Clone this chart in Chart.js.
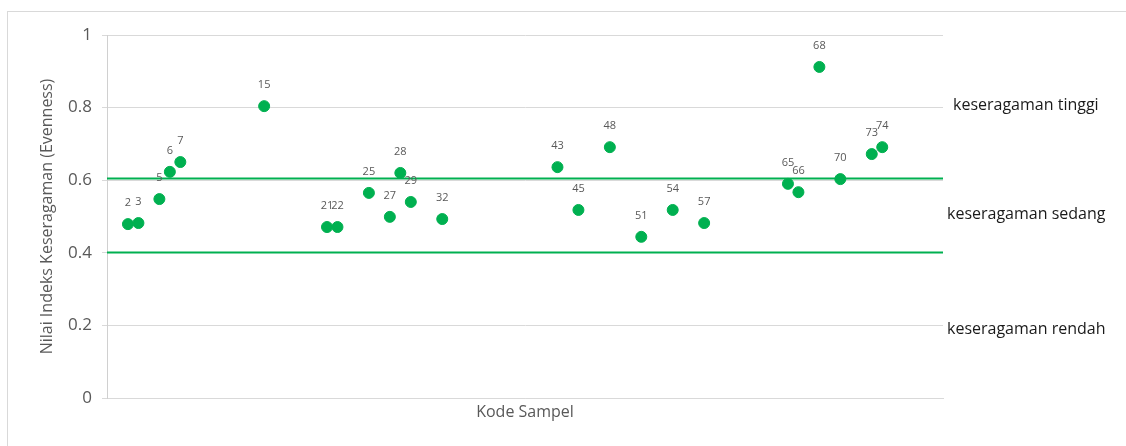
<!DOCTYPE html>
<html>
<head>
<meta charset="utf-8">
<script src="https://cdn.jsdelivr.net/npm/chart.js@4"></script>
<style>
  html, body { margin: 0; padding: 0; background: #fff; }
  #wrap { width: 1126px; height: 446px; }
</style>
</head>
<body>
<div id="wrap"><canvas id="chart" width="1126" height="446"></canvas></div>
<script>
// sample codes and evenness values
const kode = [2, 3, 5, 6, 7, 15, 21, 22, 25, 27, 28, 29, 32, 43, 45, 48, 51, 54, 57, 65, 66, 68, 70, 73, 74];
const evenness = [0.479, 0.482, 0.548, 0.623, 0.650, 0.804, 0.471, 0.471, 0.565, 0.499, 0.620, 0.540, 0.493,
  0.636, 0.518, 0.691, 0.444, 0.518, 0.482, 0.590, 0.567, 0.912, 0.603, 0.672, 0.691];

// category limits
const batasAtas = 0.605;
const batasBawah = 0.401;
const xRange = [0, 79.8];

const yTicks = [0, 0.2, 0.4, 0.6, 0.8, 1];

const zoneLabels = ["keseragaman tinggi", "keseragaman sedang", "keseragaman rendah"];
const zoneY = [0.807, 0.507, 0.19];

const GREEN = "#00B050";
const GRID = "#d9d9d9";
const FONT = "'Open Sans', 'Liberation Sans', sans-serif";

const points = kode.map((k, i) => ({ x: k, y: evenness[i] }));

// labels over each point + text on the right
const labelPlugin = {
  id: "labels",
  beforeDraw(chart) {
    const ctx = chart.ctx;
    ctx.save();
    ctx.strokeStyle = GRID;
    ctx.lineWidth = 1;
    ctx.strokeRect(7.5, 11.5, 3000, 3000);
    ctx.restore();
  },
  afterDatasetsDraw(chart) {
    const ctx = chart.ctx;
    const meta = chart.getDatasetMeta(0);
    ctx.save();
    ctx.font = "11px " + FONT;
    ctx.fillStyle = "#595959";
    ctx.textAlign = "center";
    ctx.textBaseline = "middle";
    meta.data.forEach((pt, i) => {
      ctx.fillText(String(kode[i]), pt.x, pt.y - 21);
    });

    const area = chart.chartArea;
    const yScale = chart.scales.y;
    ctx.font = "16px " + FONT;
    ctx.fillStyle = "#1a1a1a";
    ctx.textAlign = "left";
    zoneLabels.forEach((t, i) => {
      const off = i === 0 ? 10 : 4;
      ctx.fillText(t, area.right + off, yScale.getPixelForValue(zoneY[i]));
    });
    ctx.restore();
  }
};

new Chart(document.getElementById("chart"), {
  type: "scatter",
  data: {
    datasets: [
      {
        data: points,
        backgroundColor: GREEN,
        borderColor: GREEN,
        pointRadius: 5.5,
        pointHoverRadius: 5.5,
        order: 0
      },
      {
        type: "line",
        data: [{ x: xRange[0], y: batasAtas }, { x: xRange[1], y: batasAtas }],
        borderColor: GREEN,
        borderWidth: 2,
        pointRadius: 0,
        order: 1
      },
      {
        type: "line",
        data: [{ x: xRange[0], y: batasBawah }, { x: xRange[1], y: batasBawah }],
        borderColor: GREEN,
        borderWidth: 2,
        pointRadius: 0,
        order: 1
      }
    ]
  },
  options: {
    responsive: false,
    animation: false,
    layout: { padding: { top: 35, right: 183, left: 0, bottom: 0 } },
    plugins: {
      legend: { display: false },
      tooltip: { enabled: false }
    },
    scales: {
      x: {
        type: "linear",
        min: xRange[0],
        max: xRange[1],
        grid: { display: false },
        border: { display: true, color: GRID, width: 1 },
        ticks: { display: false },
        title: {
          display: true,
          text: "Kode Sampel",
          color: "#595959",
          font: { family: FONT, size: 16 },
          padding: { top: 0, bottom: 24 }
        },
        afterFit(scale) { scale.height = 48; }
      },
      y: {
        min: 0,
        max: 1,
        afterBuildTicks(scale) { scale.ticks = yTicks.map(v => ({ value: v })); },
        grid: { color: GRID, lineWidth: 1, tickLength: 5, drawTicks: true },
        border: { display: true, color: "#d0d0d0", width: 1 },
        ticks: {
          color: "#595959",
          font: { family: FONT, size: 17 },
          padding: 10,
          callback: v => String(v)
        },
        title: {
          display: true,
          text: "Nilai Indeks Keseragaman (Evenness)",
          color: "#595959",
          font: { family: FONT, size: 16 },
          padding: { top: 38, bottom: 0 }
        },
        afterFit(scale) { scale.width = 107; }
      }
    }
  },
  plugins: [labelPlugin]
});
</script>
</body>
</html>
